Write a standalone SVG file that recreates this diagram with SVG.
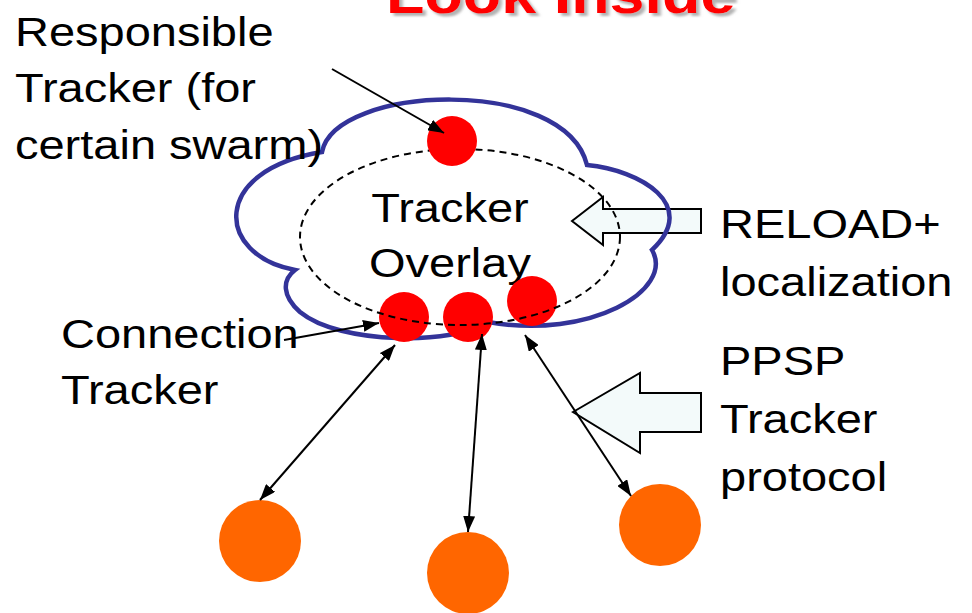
<svg xmlns="http://www.w3.org/2000/svg" width="972" height="613" viewBox="0 0 972 613">
<style>
.lbl{font-family:"Liberation Sans",Arial,sans-serif;font-size:40px;fill:#000}
.title{font-family:"Liberation Sans",Arial,sans-serif;font-size:54px;font-weight:bold;fill:#FF0000}
.conn{stroke:#000;stroke-width:2;fill:none}
.block{fill:#F3FAFA;stroke:#000;stroke-width:2}
.tracker{fill:#FF0000}
.peer{fill:#FF6600}
</style>
<defs>
<marker id="ah" viewBox="0 0 16 12" refX="16" refY="6" markerWidth="16" markerHeight="12" markerUnits="userSpaceOnUse" orient="auto-start-reverse">
<path d="M0,0 L16,6 L0,12 Z" fill="#000"/>
</marker>
<filter id="shadow" x="-5%" y="-20%" width="110%" height="150%">
<feDropShadow dx="3" dy="3" stdDeviation="1.2" flood-color="#808080" flood-opacity="0.6"/>
</filter>
</defs>
<rect width="972" height="613" fill="#fff"/>

<g id="title">
<text class="title" transform="translate(386,13) scale(1.165,1)" x="0" y="0" filter="url(#shadow)">Look Inside</text>
</g>

<g id="block-arrows">
<polygon id="reload-arrow" class="block" points="572,221 603,197 603,209 701,209 701,233 603,233 603,245"/>
<polygon id="ppsp-arrow" class="block" points="573,412 640,373 640,393 701,393 701,432 640,432 640,453"/>
</g>

<g id="tracker-overlay">
<path id="cloud" d="M322,152 C335,85 565,75 587,165 C640,170 700,205 652,250 C675,290 590,340 488,322 C455,345 340,345 300,312 C282,296 282,280 295,270 C215,255 210,170 322,152 Z" fill="none" stroke="#333399" stroke-width="4.5" stroke-linejoin="miter"/>
<text class="lbl" transform="translate(450,0) scale(1.175,1)" text-anchor="middle"><tspan x="0" y="222">Tracker</tspan><tspan x="0" y="277">Overlay</tspan></text>
</g>

<g id="connection-trackers">
<circle class="tracker" cx="404" cy="317" r="25"/>
<circle class="tracker" cx="468" cy="317" r="25"/>
<circle class="tracker" cx="532" cy="301" r="25"/>
</g>

<ellipse id="overlay-ring" cx="460" cy="237" rx="160" ry="88" fill="none" stroke="#000" stroke-width="2" stroke-dasharray="7,5"/>

<g id="responsible-tracker">
<circle class="tracker" cx="452" cy="141" r="25"/>
</g>

<g id="peers">
<circle id="peer1" class="peer" cx="260" cy="541" r="41"/>
<circle id="peer2" class="peer" cx="468" cy="573" r="41"/>
<circle id="peer3" class="peer" cx="660" cy="525" r="41"/>
</g>

<g id="labels">
<text class="lbl" transform="translate(15,0) scale(1.175,1)"><tspan x="0" y="46">Responsible</tspan><tspan x="0" y="102">Tracker (for</tspan><tspan x="0" y="159">certain swarm)</tspan></text>
<text class="lbl" transform="translate(61,0) scale(1.175,1)"><tspan x="0" y="348">Connection</tspan><tspan x="0" y="404">Tracker</tspan></text>
<text class="lbl" transform="translate(720,0) scale(1.175,1)"><tspan x="0" y="238">RELOAD+</tspan><tspan x="0" y="296">localization</tspan></text>
<text class="lbl" transform="translate(720,0) scale(1.175,1)"><tspan x="0" y="375">PPSP</tspan><tspan x="0" y="433">Tracker</tspan><tspan x="0" y="491">protocol</tspan></text>
</g>

<g id="connectors">
<line class="conn" x1="332" y1="69" x2="444" y2="133" marker-end="url(#ah)"/>
<line class="conn" x1="284" y1="340" x2="379" y2="323" marker-end="url(#ah)"/>
<line class="conn" x1="260" y1="500" x2="395" y2="345" marker-start="url(#ah)" marker-end="url(#ah)"/>
<line class="conn" x1="468" y1="532" x2="482" y2="334" marker-start="url(#ah)" marker-end="url(#ah)"/>
<line class="conn" x1="631" y1="496" x2="525" y2="335" marker-start="url(#ah)" marker-end="url(#ah)"/>
</g>
</svg>
